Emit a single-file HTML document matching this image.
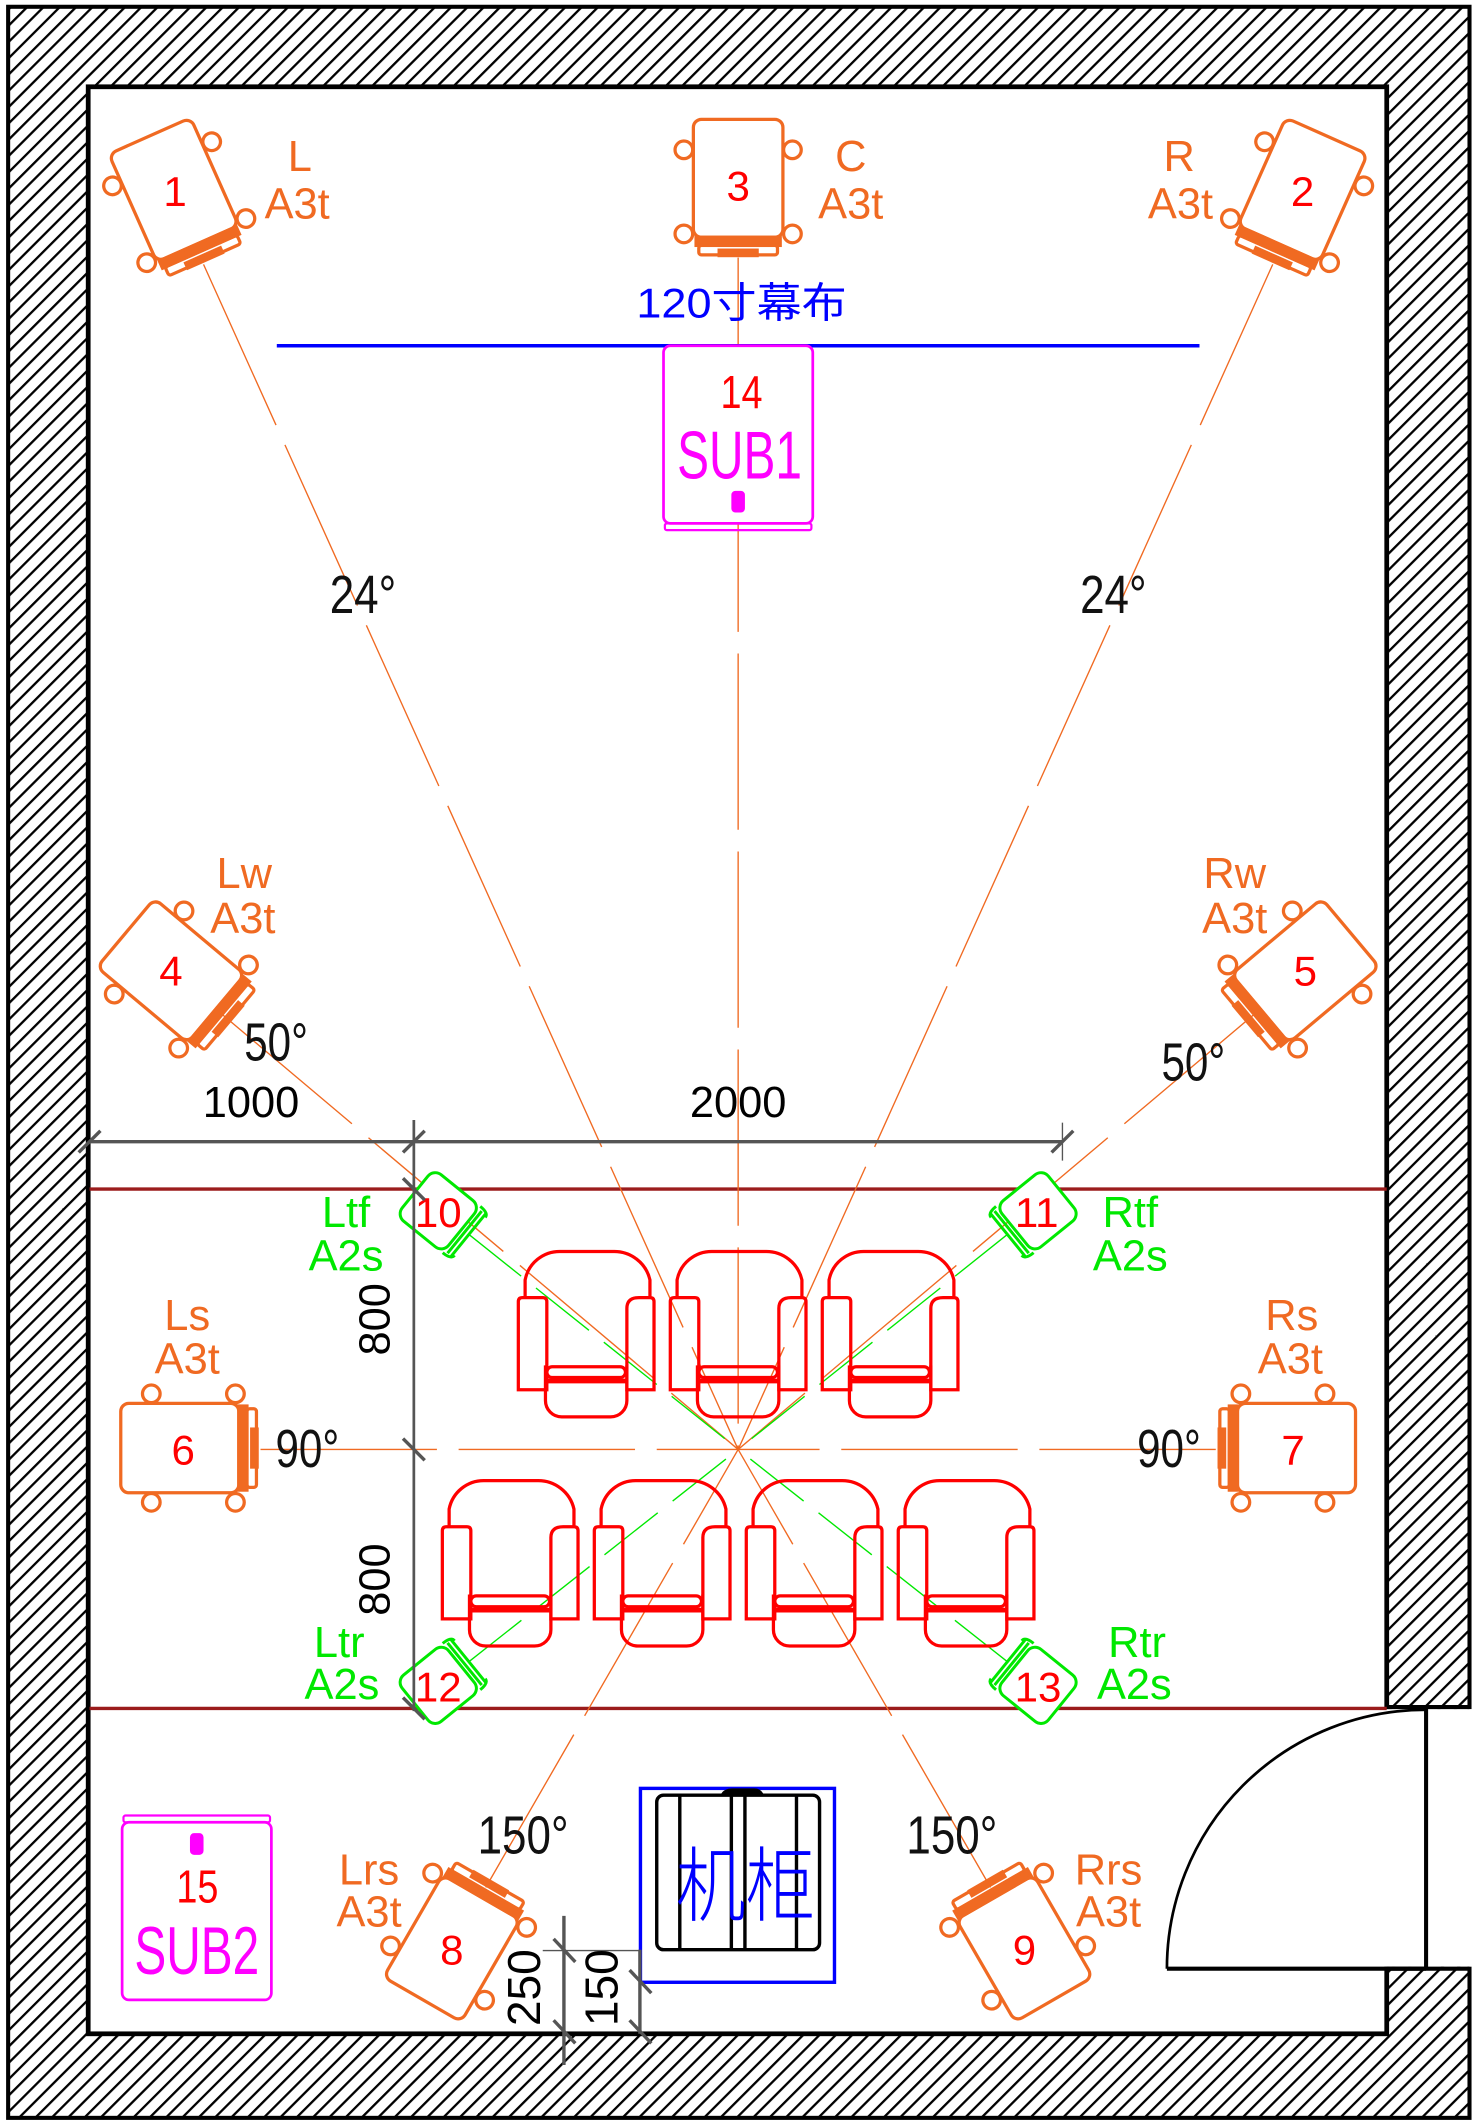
<!DOCTYPE html>
<html><head><meta charset="utf-8"><style>
html,body{margin:0;padding:0;background:#fff;width:1479px;height:2126px;overflow:hidden}
svg{display:block}
text{font-family:"Liberation Sans","Noto Sans CJK SC",sans-serif}
.o{fill:#f06a22}.r{fill:#ff0000}.g{fill:#00e800}
.deg{font-family:"Liberation Sans Narrow","Liberation Sans",sans-serif;fill:#111}
</style></head><body>
<svg width="1479" height="2126" viewBox="0 0 1090 1568" preserveAspectRatio="none" xmlns="http://www.w3.org/2000/svg">
<defs>
<pattern id="h" width="8.5" height="8.5" patternUnits="userSpaceOnUse" patternTransform="rotate(45)">
<rect width="8.5" height="8.5" fill="#fff"/><line x1="0" y1="0" x2="0" y2="8.5" stroke="#000" stroke-width="3.4"/>
</pattern>
<g id="spk" fill="none" stroke="#f06a22" stroke-width="2.4">
<circle cx="-40" cy="-21" r="6.5" fill="#fff"/><circle cx="40" cy="-21" r="6.5" fill="#fff"/>
<circle cx="-40" cy="41" r="6.5" fill="#fff"/><circle cx="40" cy="41" r="6.5" fill="#fff"/>
<rect x="-33" y="-43.5" width="66" height="87" rx="6" fill="#fff"/>
<rect x="-31" y="43.5" width="62" height="6" fill="#f06a22"/>
<rect x="-29" y="49.5" width="58" height="7" rx="2"/>
<rect x="-14" y="53" width="28" height="4" fill="#f06a22"/>
</g>
<g id="a2s" fill="none" stroke="#00e800" stroke-width="2.2">
<rect x="-22" y="-22" width="44" height="44" rx="7" fill="#fff"/>
<path d="M-20 25 H20 M-20 28.5 H20 M-22 22 Q-22 30 -18 30 M22 22 Q22 30 18 30"/>
</g>
<g id="chair" fill="none" stroke="#ff0000" stroke-width="2.4">
<path d="M-45 34 V21 A26 26 0 0 1 -19 0 H20 A27 27 0 0 1 47 21 V34"/>
<path d="M-50 102 V37 Q-50 34 -47 34 H-32 Q-29 34 -29 37 V102 Z"/>
<path d="M50 102 V37 Q50 34 47 34 H39 Q30 34 30 42 V102 Z"/>
<path d="M-30 84 V110 A12 12 0 0 0 -18 122 H18 A12 12 0 0 0 30 110 V84"/>
<rect x="-29" y="85" width="58" height="8" rx="4"/>
<line x1="-30" y1="95.5" x2="30" y2="95.5" stroke-width="3.5"/>
</g>
<g id="sub" fill="none" stroke="#ff00ff" stroke-width="2">
<rect x="-55" y="0" width="110" height="131" rx="5" fill="#fff"/>
<rect x="-54" y="131" width="108" height="5" rx="1.5" stroke-width="1.6"/>
<rect x="-4" y="108" width="8" height="14" rx="2" fill="#ff00ff"/>
</g>
</defs>

<!-- walls -->
<rect x="6" y="5" width="1077" height="1557" fill="url(#h)" stroke="#000" stroke-width="3"/>
<rect x="65" y="64" width="957" height="1436" fill="#fff" stroke="#000" stroke-width="3.5"/>
<rect x="1019.5" y="1260.5" width="67" height="190" fill="#fff"/>
<path d="M1022 1259 H1083 M1022 1452 H1083 M1022 1452 V1500" stroke="#000" stroke-width="3" fill="none"/>
<line x1="1051" y1="1259" x2="1051" y2="1452" stroke="#000" stroke-width="3"/>
<line x1="860" y1="1452" x2="1051" y2="1452" stroke="#000" stroke-width="3"/>
<path d="M860 1452 A191 191 0 0 1 1051 1261" fill="none" stroke="#000" stroke-width="2"/>

<!-- zone lines -->
<line x1="66" y1="877" x2="1022" y2="877" stroke="#9b1c1c" stroke-width="2.5"/>
<line x1="66" y1="1260" x2="1022" y2="1260" stroke="#9b1c1c" stroke-width="2.5"/>

<!-- listening lines -->
<g stroke="#f06a22" stroke-width="1" fill="none" stroke-dasharray="130 16">
<line x1="150" y1="195" x2="544" y2="1069"/>
<line x1="938" y1="195" x2="544" y2="1069"/>
<line x1="544" y1="190" x2="544" y2="1069"/>
<line x1="160" y1="745" x2="544" y2="1069"/>
<line x1="928" y1="745" x2="544" y2="1069"/>
<line x1="192" y1="1069" x2="544" y2="1069"/>
<line x1="896" y1="1069" x2="544" y2="1069"/>
<line x1="358" y1="1392" x2="544" y2="1069"/>
<line x1="730" y1="1392" x2="544" y2="1069"/>
</g>
<g stroke="#00e800" stroke-width="1" fill="none" stroke-dasharray="50 14">
<line x1="345" y1="910" x2="544" y2="1069"/>
<line x1="743" y1="910" x2="544" y2="1069"/>
<line x1="345" y1="1226" x2="544" y2="1069"/>
<line x1="743" y1="1226" x2="544" y2="1069"/>
</g>

<!-- screen -->
<line x1="204" y1="255" x2="884" y2="255" stroke="#0000ff" stroke-width="2.5"/>
<text x="469" y="234" font-size="31" fill="#0000ff" textLength="155" lengthAdjust="spacingAndGlyphs">120寸幕布</text>

<!-- subs -->
<use href="#sub" transform="translate(544,255)"/>
<text x="531" y="301" font-size="34" class="r" textLength="31" lengthAdjust="spacingAndGlyphs">14</text>
<text x="499" y="353" font-size="50" fill="#ff00ff" textLength="92" lengthAdjust="spacingAndGlyphs">SUB1</text>
<use href="#sub" transform="translate(145,1475) rotate(180)"/>
<text x="130" y="1403" font-size="34" class="r" textLength="31" lengthAdjust="spacingAndGlyphs">15</text>
<text x="99" y="1456" font-size="50" fill="#ff00ff" textLength="92" lengthAdjust="spacingAndGlyphs">SUB2</text>

<!-- chairs -->
<use href="#chair" transform="translate(432,923)"/>
<use href="#chair" transform="translate(544,923)"/>
<use href="#chair" transform="translate(656,923)"/>
<use href="#chair" transform="translate(376,1092)"/>
<use href="#chair" transform="translate(488,1092)"/>
<use href="#chair" transform="translate(600,1092)"/>
<use href="#chair" transform="translate(712,1092)"/>

<!-- A3t speakers -->
<use href="#spk" transform="translate(128,140) rotate(-24)"/>
<use href="#spk" transform="translate(960,140) rotate(24)"/>
<use href="#spk" transform="translate(544,131.5)"/>
<use href="#spk" transform="translate(126,716) rotate(-50)"/>
<use href="#spk" transform="translate(962,716) rotate(50)"/>
<use href="#spk" transform="translate(132.5,1068) rotate(-90)"/>
<use href="#spk" transform="translate(955.5,1068) rotate(90)"/>
<use href="#spk" transform="translate(333,1437) rotate(-150)"/>
<use href="#spk" transform="translate(755,1437) rotate(150)"/>

<!-- A2s speakers -->
<use href="#a2s" transform="translate(323,893) rotate(-51)"/>
<use href="#a2s" transform="translate(765,893) rotate(51)"/>
<use href="#a2s" transform="translate(323,1243) rotate(-129)"/>
<use href="#a2s" transform="translate(765,1243) rotate(129)"/>

<!-- numbers -->
<g font-size="31" class="r" text-anchor="middle">
<text x="129" y="152">1</text><text x="960" y="152">2</text><text x="544" y="148">3</text>
<text x="126" y="727">4</text><text x="962" y="727">5</text>
<text x="135" y="1080">6</text><text x="953" y="1080">7</text>
<text x="333" y="1449">8</text><text x="755" y="1449">9</text>
<text x="323" y="905">10</text><text x="764" y="905">11</text>
<text x="323" y="1255">12</text><text x="765" y="1255">13</text>
</g>

<!-- orange labels -->
<g font-size="32" class="o" text-anchor="middle">
<text x="221" y="126">L</text><text x="219" y="161">A3t</text>
<text x="627" y="126">C</text><text x="627" y="161">A3t</text>
<text x="869" y="126">R</text><text x="870" y="161">A3t</text>
<text x="180" y="655">Lw</text><text x="179" y="688">A3t</text>
<text x="910" y="655">Rw</text><text x="910" y="688">A3t</text>
<text x="138" y="981">Ls</text><text x="138" y="1013">A3t</text>
<text x="952" y="981">Rs</text><text x="951" y="1013">A3t</text>
<text x="272" y="1390">Lrs</text><text x="272" y="1421">A3t</text>
<text x="817" y="1390">Rrs</text><text x="817" y="1421">A3t</text>
</g>
<!-- green labels -->
<g font-size="32" class="g" text-anchor="middle">
<text x="255" y="905">Ltf</text><text x="255" y="937">A2s</text>
<text x="833" y="905">Rtf</text><text x="833" y="937">A2s</text>
<text x="250" y="1222">Ltr</text><text x="252" y="1253">A2s</text>
<text x="838" y="1222">Rtr</text><text x="836" y="1253">A2s</text>
</g>

<!-- angle labels -->
<g class="deg" font-size="40">
<text x="243" y="452" textLength="49" lengthAdjust="spacingAndGlyphs">24°</text>
<text x="796" y="452" textLength="49" lengthAdjust="spacingAndGlyphs">24°</text>
<text x="180" y="782" textLength="47" lengthAdjust="spacingAndGlyphs">50°</text>
<text x="856" y="797" textLength="47" lengthAdjust="spacingAndGlyphs">50°</text>
<text x="203" y="1082" textLength="47" lengthAdjust="spacingAndGlyphs">90°</text>
<text x="838" y="1082" textLength="47" lengthAdjust="spacingAndGlyphs">90°</text>
<text x="352" y="1367" textLength="67" lengthAdjust="spacingAndGlyphs">150°</text>
<text x="668" y="1367" textLength="67" lengthAdjust="spacingAndGlyphs">150°</text>
</g>

<!-- cabinet -->
<rect x="472" y="1319" width="143" height="143" fill="none" stroke="#0000ff" stroke-width="2.5"/>
<rect x="484" y="1324" width="120" height="114" rx="5" fill="none" stroke="#000" stroke-width="2.5"/>
<path d="M501 1324 V1438 M539 1324 V1438 M549 1324 V1438 M587 1324 V1438" stroke="#000" stroke-width="2.5"/>
<path d="M531 1324 Q533 1319 540 1319 H556 Q561 1319 563 1324 Z" fill="#000"/>
<text x="498" y="1412" font-size="60" fill="#0000ff" font-weight="300" textLength="103" lengthAdjust="spacingAndGlyphs">机柜</text>

<!-- dimensions -->
<g stroke="#555" stroke-width="2.5" fill="none">
<line x1="66" y1="842" x2="783" y2="842"/>
<line x1="58" y1="850" x2="74" y2="834"/>
<line x1="297" y1="850" x2="313" y2="834"/>
<line x1="775" y1="850" x2="791" y2="834"/>
<line x1="305" y1="826" x2="305" y2="1262" stroke-width="2"/>
<line x1="783" y1="828" x2="783" y2="856" stroke-width="1"/>
<line x1="297" y1="869" x2="313" y2="885"/>
<line x1="297" y1="1061" x2="313" y2="1077"/>
<line x1="297" y1="1252" x2="313" y2="1268"/>
<line x1="415.6" y1="1413" x2="415.6" y2="1523"/>
<line x1="471.6" y1="1438" x2="471.6" y2="1500"/>
<line x1="400" y1="1438.6" x2="472" y2="1438.6" stroke-width="1"/>
<line x1="408" y1="1430" x2="424" y2="1447"/>
<line x1="408" y1="1490" x2="424" y2="1507"/>
<line x1="464" y1="1453" x2="480" y2="1470"/>
<line x1="464" y1="1490" x2="480" y2="1507"/>
</g>
<g font-size="32" fill="#000" text-anchor="middle">
<text x="185" y="824">1000</text>
<text x="544" y="824">2000</text>
<text transform="translate(287,973) rotate(-90)">800</text>
<text transform="translate(287,1165) rotate(-90)">800</text>
<text transform="translate(398,1466) rotate(-90)" font-size="34">250</text>
<text transform="translate(455,1466) rotate(-90)" font-size="34">150</text>
</g>
</svg>
</body></html>
